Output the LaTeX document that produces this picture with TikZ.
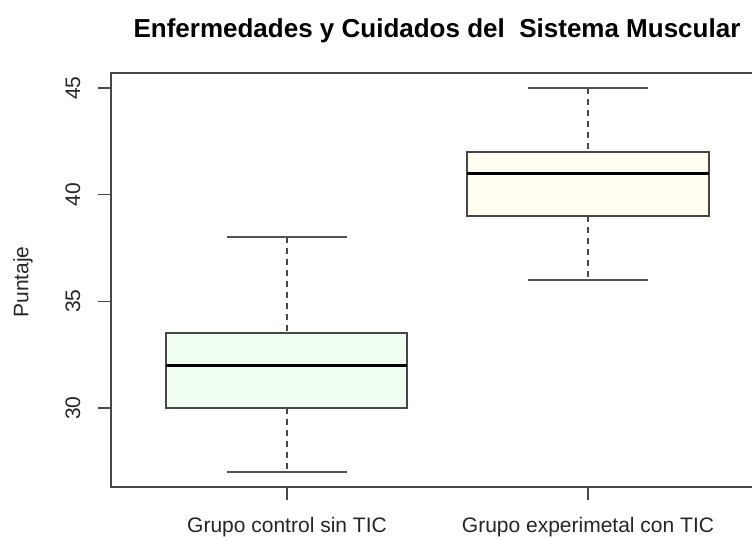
\documentclass[tikz,border=0pt]{standalone}
\usepackage{fontspec}
\setmainfont{Liberation Sans}
\begin{document}
\begin{tikzpicture}[x=1pt,y=-1pt,
  frame/.style={draw=black!72, line width=1.6pt},
  whisk/.style={draw=black!68, line width=1.3pt},
  whiskdash/.style={draw=black!72, line width=1.3pt, dash pattern=on 6pt off 5pt},
  boxline/.style={draw=black!72, line width=1.5pt},
  med/.style={draw=black, line width=3.5pt},
  lab/.style={font=\fontsize{21}{24}\selectfont, inner sep=0pt, text=black!85},
  ttl/.style={font=\fontsize{26}{30}\selectfont\bfseries, inner sep=0pt},
]
\useasboundingbox (0,0) rectangle (752,540);
\clip (0,0) rectangle (752,540);
\fill[white] (0,0) rectangle (752,540);

% title
\node[ttl] (title) at (437,31) {Enfermedades y Cuidados del\ \ Sistema Muscular};

% box 1 (control)
\draw[whiskdash] (287,237) -- (287,333);
\draw[whiskdash] (287,408) -- (287,472);
\draw[whisk] (227,237) -- (347,237);
\draw[whisk] (227,472) -- (347,472);
\draw[boxline, fill={rgb,255:red,240;green,255;blue,240}] (166,333) rectangle (407,408);
\draw[med] (166,365.3) -- (407,365.3);

% box 2 (experimental)
\draw[whiskdash] (588,88) -- (588,152);
\draw[whiskdash] (588,216) -- (588,280);
\draw[whisk] (528,88) -- (648,88);
\draw[whisk] (528,280) -- (648,280);
\draw[boxline, fill={rgb,255:red,255;green,254;blue,240}] (467,152) rectangle (709,216);
\draw[med] (467,173.5) -- (709,173.5);

% frame
\draw[frame] (111,73) rectangle (764,487);

% y axis
\draw[frame] (111,88) -- (111,408);
\foreach \v/\yy in {45/88,40/194.7,35/301.3,30/408}{
  \draw[frame] (98,\yy) -- (111,\yy);
  \node[lab, rotate=90] (ytick\v) at (73,\yy) {\v};
}
\node[lab, rotate=90] (ylab) at (23,282) {Puntaje};

% x axis
\draw[frame] (287,487) -- (588,487);
\draw[frame] (287,487) -- (287,500);
\draw[frame] (588,487) -- (588,500);
\node[lab, anchor=base] (xlab1) at (287,532) {Grupo control sin TIC};
\node[lab, anchor=base] (xlab2) at (588,532) {Grupo experimetal con TIC};
\end{tikzpicture}
\end{document}
